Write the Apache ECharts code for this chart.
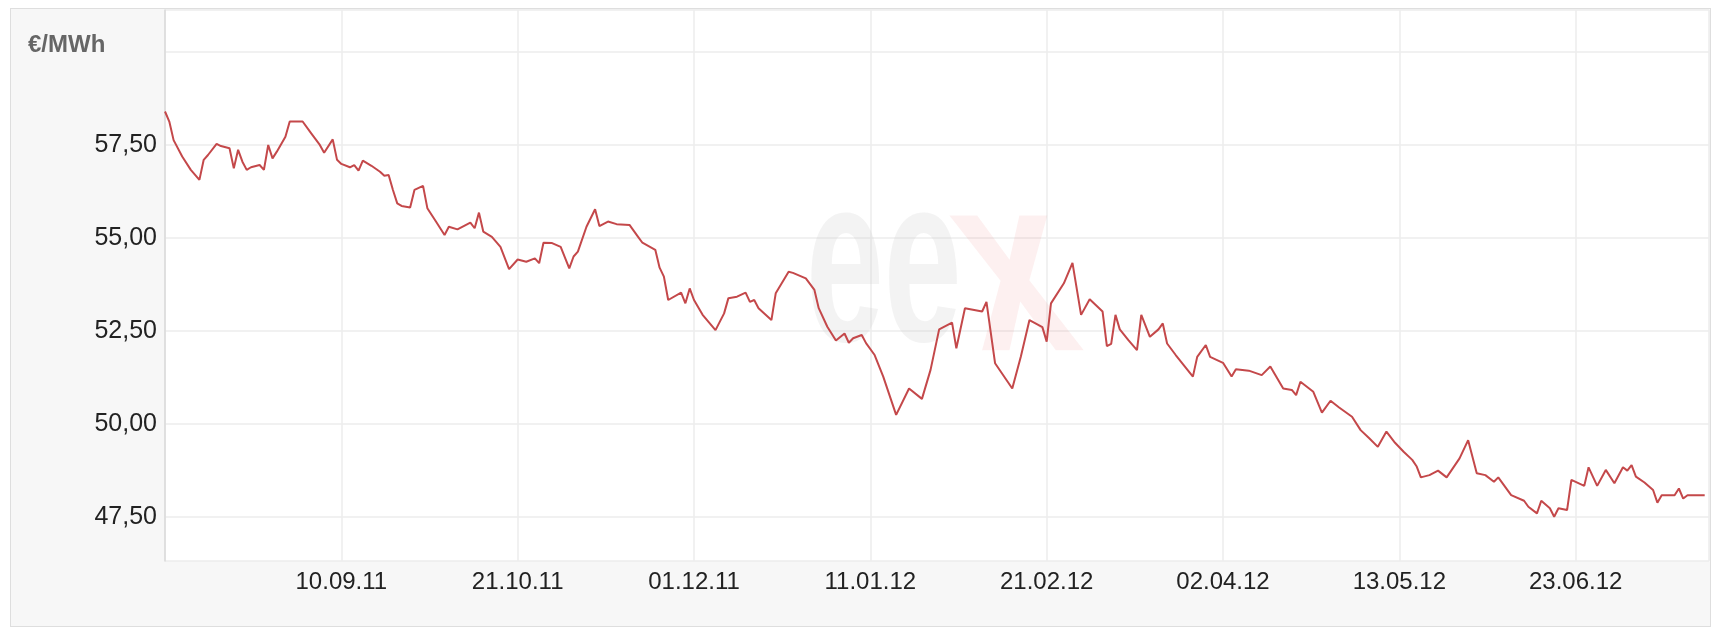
<!DOCTYPE html>
<html>
<head>
<meta charset="utf-8">
<script src="https://cdn.jsdelivr.net/npm/echarts@6/dist/echarts.min.js"></script>
<style>
  html, body { margin: 0; padding: 0; background: #ffffff; }
  #frame { position: absolute; left: 10px; top: 8px; width: 1701px; height: 619px; box-sizing: border-box;
           background: #f7f7f7; border: 1px solid #dedede; }
  #chart { position: absolute; left: 0; top: 0; width: 1721px; height: 628px; }
</style>
</head>
<body>
<div id="frame"></div>
<div id="chart"></div>
<script>
// Day offsets since 31.07.2011 and settlement prices (€/MWh)
const startDate = '2011-07-31';
const dayOffsets = [
  0, 1, 2, 4, 6, 8, 9, 10, 12, 13, 15, 16, 17, 18, 19, 20, 22, 23, 24, 25,
  26, 28, 29, 32, 34, 36, 37, 39, 40, 41, 43, 44, 45, 46, 48, 50, 51, 52, 53, 54,
  55, 57, 58, 60, 61, 63, 65, 66, 68, 71, 72, 73, 74, 76, 78, 80, 82, 84, 86, 87,
  88, 90, 92, 94, 95, 96, 98, 100, 101, 103, 105, 108, 110, 111, 114, 115, 116, 117, 120, 121,
  122, 123, 125, 128, 130, 131, 133, 135, 136, 137, 138, 141, 142, 145, 146, 149, 151, 152, 154, 156,
  158, 159, 160, 162, 163, 165, 167, 170, 173, 176, 178, 180, 183, 184, 186, 190, 191, 193, 197, 199,
  201, 204, 205, 206, 209, 211, 213, 215, 218, 219, 220, 221, 222, 224, 226, 227, 229, 231, 232, 233,
  235, 239, 240, 242, 243, 246, 248, 249, 252, 255, 257, 260, 262, 263, 264, 267, 269, 271, 273, 276,
  278, 280, 282, 284, 286, 288, 290, 291, 292, 294, 296, 298, 301, 303, 305, 307, 309, 310, 313, 316,
  317, 319, 320, 322, 323, 324, 326, 327, 330, 331, 333, 335, 337, 339, 340, 341, 342, 344, 346, 347,
  348, 351, 352, 353, 354, 358
];
const prices = [
  58.40, 58.13, 57.63, 57.19, 56.83, 56.56, 57.10, 57.23, 57.53, 57.47, 57.41, 56.87, 57.37, 57.05, 56.83, 56.90, 56.96, 56.83, 57.50, 57.14,
  57.32, 57.72, 58.13, 58.13, 57.81, 57.50, 57.29, 57.65, 57.10, 56.99, 56.90, 56.96, 56.81, 57.08, 56.94, 56.78, 56.67, 56.69, 56.29, 55.93,
  55.86, 55.82, 56.29, 56.40, 55.80, 55.44, 55.08, 55.30, 55.23, 55.41, 55.26, 55.68, 55.17, 55.03, 54.76, 54.16, 54.42, 54.36, 54.45, 54.32,
  54.87, 54.86, 54.76, 54.18, 54.50, 54.63, 55.30, 55.77, 55.32, 55.44, 55.37, 55.35, 55.03, 54.87, 54.68, 54.20, 53.96, 53.33, 53.53, 53.24,
  53.64, 53.33, 52.93, 52.52, 52.97, 53.38, 53.42, 53.53, 53.28, 53.33, 53.11, 52.79, 53.51, 54.09, 54.06, 53.91, 53.60, 53.11, 52.61, 52.24,
  52.43, 52.18, 52.30, 52.39, 52.17, 51.85, 51.27, 50.24, 50.95, 50.67, 51.45, 52.54, 52.72, 52.03, 53.11, 53.02, 53.28, 51.63, 50.95, 51.81,
  52.79, 52.60, 52.21, 53.24, 53.78, 54.33, 52.93, 53.35, 53.02, 52.09, 52.15, 52.93, 52.54, 52.25, 51.98, 52.93, 52.34, 52.54, 52.70, 52.16,
  51.85, 51.27, 51.80, 52.12, 51.80, 51.64, 51.27, 51.47, 51.43, 51.31, 51.54, 50.95, 50.91, 50.77, 51.13, 50.86, 50.30, 50.62, 50.44, 50.19,
  49.83, 49.61, 49.38, 49.79, 49.49, 49.25, 49.03, 48.86, 48.56, 48.62, 48.74, 48.56, 49.07, 49.56, 48.67, 48.62, 48.44, 48.56, 48.08, 47.93,
  47.77, 47.59, 47.93, 47.73, 47.50, 47.73, 47.68, 48.49, 48.33, 48.83, 48.33, 48.76, 48.40, 48.83, 48.74, 48.89, 48.58, 48.42, 48.22, 47.88,
  48.08, 48.08, 48.26, 47.99, 48.08, 48.08
];
const xTickLabels = ['10.09.11', '21.10.11', '01.12.11', '11.01.12', '21.02.12', '02.04.12', '13.05.12', '23.06.12'];
const yTickLabels = ['47,50', '50,00', '52,50', '55,00', '57,50'];
const yTickValues = [47.5, 50, 52.5, 55, 57.5];
const unitLabel = '€/MWh';

const seriesData = dayOffsets.map((d, i) => [d, prices[i]]);

const chart = echarts.init(document.getElementById('chart'), null, { renderer: 'canvas' });
const FONT = 'Liberation Sans, Arial, sans-serif';

chart.setOption({
  animation: false,
  grid: {
    left: 165, right: 12, top: 10, bottom: 67,
    show: true, backgroundColor: '#ffffff', borderWidth: 0
  },
  xAxis: {
    type: 'value',
    min: 0, max: 359, interval: 41,
    axisLine: { show: false },
    axisTick: { show: false },
    splitLine: { show: true, lineStyle: { color: '#ececec', width: 1.5 } },
    axisLabel: {
      showMinLabel: false, showMaxLabel: false,
      margin: 9, fontSize: 24, color: '#222222', fontFamily: FONT,
      formatter: function (v) {
        const k = v / 41;
        if (Math.abs(k - Math.round(k)) > 1e-6) return '';
        const idx = Math.round(k) - 1;
        return (idx >= 0 && idx < xTickLabels.length) ? xTickLabels[idx] : '';
      }
    }
  },
  yAxis: {
    type: 'value',
    min: 46.31, max: 61.13,
    minInterval: 2.5, maxInterval: 2.5,
    axisLine: { show: true, lineStyle: { color: '#dadada', width: 1.5 } },
    axisTick: { show: false },
    splitLine: { show: true, lineStyle: { color: '#ececec', width: 1.5 } },
    axisLabel: {
      showMinLabel: false, showMaxLabel: false,
      margin: 8, fontSize: 25, color: '#222222', fontFamily: FONT,
      formatter: function (v) {
        for (let i = 0; i < yTickValues.length; i++) {
          if (Math.abs(v - yTickValues[i]) < 1e-6) return yTickLabels[i];
        }
        return '';
      }
    }
  },
  graphic: [
    {
      type: 'text', x: 28, y: 45, z: 5,
      style: { text: unitLabel, font: 'bold 24px ' + FONT, fill: '#666666', verticalAlign: 'middle', align: 'left' }
    },
    {
      type: 'text', x: 806, y: 275, scaleY: 1.7, z: 1, silent: true,
      style: { text: 'ee', font: 'bold 140px ' + FONT, fill: 'rgba(200,200,200,0.22)', verticalAlign: 'middle', align: 'left' }
    },
    {
      type: 'text', x: 1015, y: 280, scaleX: 1.25, scaleY: 1.7, skewX: 0.25, z: 1, silent: true,
      style: { text: 'x', font: 'bold 150px ' + FONT, fill: 'rgba(235,90,90,0.09)', verticalAlign: 'middle', align: 'center' }
    }
  ],
  series: [{
    type: 'line',
    data: seriesData,
    showSymbol: false,
    symbol: 'none',
    smooth: false,
    z: 3,
    lineStyle: { color: '#c4484a', width: 2 }
  }]
});
</script>
</body>
</html>
